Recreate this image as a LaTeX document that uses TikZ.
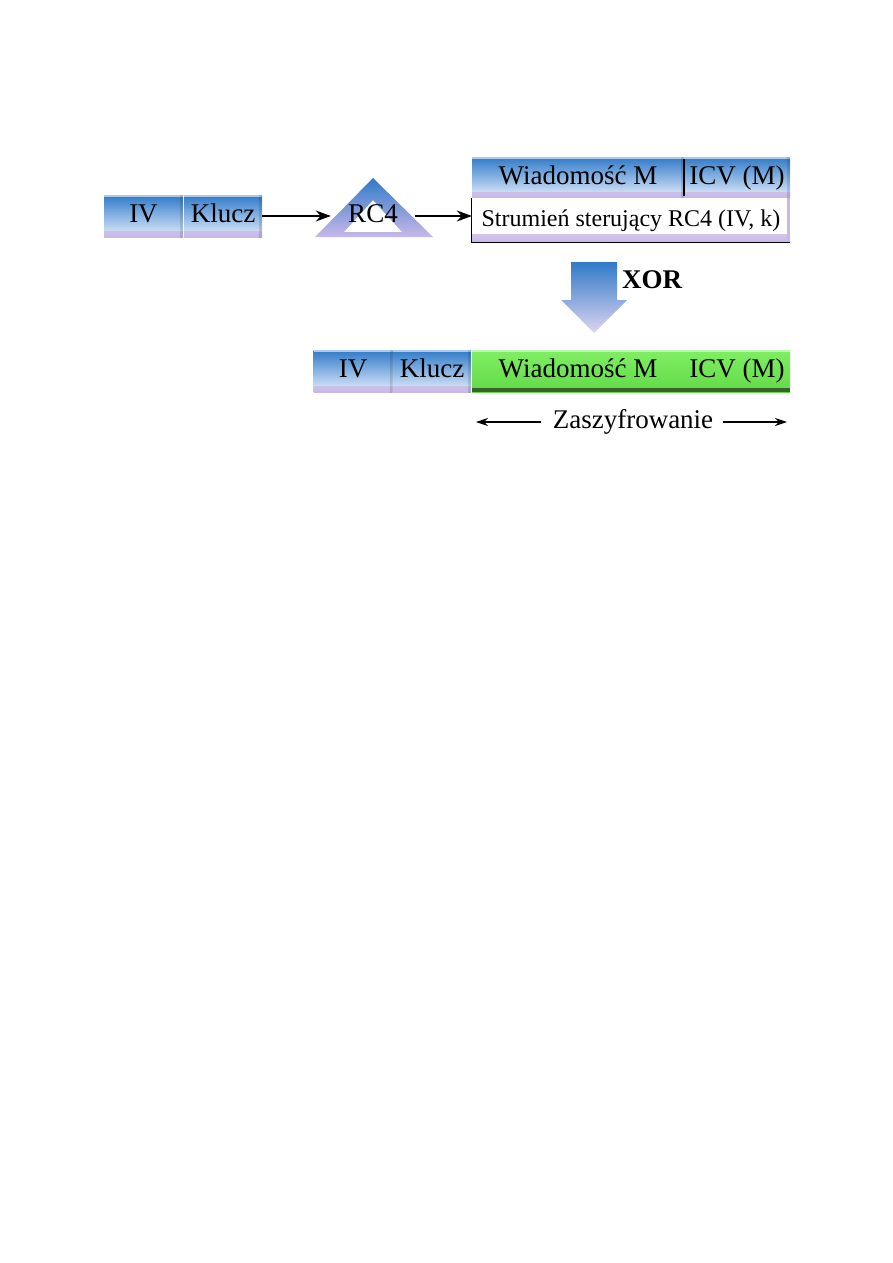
\documentclass[tikz,border=0pt]{standalone}
\usepackage{fontspec}
\setmainfont{Liberation Serif}
\usetikzlibrary{arrows.meta}
\definecolor{bluetop}{RGB}{48,122,200}
\definecolor{bluemid}{RGB}{110,168,228}
\definecolor{bluebot}{RGB}{228,238,252}
\definecolor{lav}{RGB}{200,184,232}
\definecolor{greentop}{RGB}{128,238,100}
\definecolor{greenbot}{RGB}{98,218,72}
\definecolor{greendark}{RGB}{56,100,44}
\tikzset{
  txt/.style={font=\fontsize{27}{30}\selectfont, text height=18pt, text depth=5pt, inner sep=0pt},
  bevel/.style={path picture={
     \shade[top color=bluebot, bottom color=lav] ([yshift=6pt]path picture bounding box.south west) rectangle (path picture bounding box.south east);
     \fill[white,opacity=.6] (path picture bounding box.north west) rectangle ([yshift=-2pt]path picture bounding box.north east);
     \fill[black,opacity=.12] (path picture bounding box.north east) rectangle ([xshift=-3pt,yshift=-2pt]path picture bounding box.south east);
  }},
  bluebox/.style={txt, rectangle, top color=bluetop, middle color=bluemid, bottom color=bluebot, bevel},
  greenbox/.style={txt, rectangle, top color=greentop, bottom color=greenbot, path picture={
     \fill[greendark] (path picture bounding box.south west) rectangle ([yshift=4pt]path picture bounding box.south east);
     \fill[white,opacity=.5] (path picture bounding box.north west) rectangle ([yshift=-2pt]path picture bounding box.north east);
  }},
  greenboxr/.style={greenbox, append after command={
     \pgfextra{\fill[greendark] (\tikzlastnode.north east) rectangle ([xshift=-3pt]\tikzlastnode.south east);}}},
  streambox/.style={txt, rectangle, fill=white, font=\fontsize{24}{28}\selectfont, path picture={
     \shade[top color=white, bottom color=lav] ([yshift=8pt]path picture bounding box.south west) rectangle (path picture bounding box.south east);
     \fill[lav] (path picture bounding box.north east) rectangle ([xshift=-3pt]path picture bounding box.south east);
  }},
  arr/.style={-{Stealth[length=15pt,width=11pt]}, line width=1.4pt},
  sarr/.style={-{Stealth[length=12pt,width=8pt]}, line width=1.2pt},
}
\begin{document}
\begin{tikzpicture}[x=1pt,y=-1pt]
\useasboundingbox (0,0) rectangle (893,1263);
% top row
\node[bluebox, minimum width=79, minimum height=42] (iv1) at (143.5,216) {IV};
\node[bluebox, minimum width=78, minimum height=42] (kl1) at (223,216) {Klucz};
% RC4 triangle
\shade[top color=bluetop, middle color=bluemid, bottom color=lav, even odd rule]
  (373,178) -- (433,237) -- (315,237) -- cycle
  (373,200) -- (402,232) -- (344,232) -- cycle;
\node[txt, minimum width=84] (rc4) at (373,216) {RC4};
% message / stream
\node[bluebox, minimum width=212, minimum height=41] (msg) at (578,177.5) {Wiadomość M};
\node[bluebox, minimum width=106, minimum height=41] (icv) at (737,177.5) {ICV (M)};
\draw[line width=1.5pt] ([yshift=-2pt]msg.north east) -- ([yshift=2pt]msg.south east);
\node[streambox, minimum width=318, minimum height=44] (stream) at (631,220) {Strumień sterujący RC4 (IV, k)};
\draw[line width=1.2pt] (stream.north west) -- (stream.south west) -- (stream.south east);
\draw[arr] (kl1.east) -- (rc4.west);
\draw[arr] (rc4.east) -- (rc4.east -| stream.west);
% XOR arrow
\shade[top color=bluetop, middle color=bluemid, bottom color=lav!60!white]
  (571,262) -- (617,262) -- (617,300) -- (627,300) -- (594,333) -- (561,300) -- (571,300) -- cycle;
\node[txt, font=\bfseries\fontsize{27}{30}\selectfont, anchor=west] (xor) at (622,282) {XOR};
% bottom row
\node[bluebox, minimum width=79, minimum height=42] (iv2) at (353,371) {IV};
\node[bluebox, minimum width=78, minimum height=42] (kl2) at (432,371) {Klucz};
\node[greenbox, minimum width=212, minimum height=42] (cmsg) at (578,371) {Wiadomość M};
\node[greenboxr, minimum width=106, minimum height=42] (cicv) at (737,371) {ICV (M)};
% Zaszyfrowanie
\node[txt] (zas) at (633,422) {Zaszyfrowanie};
\coordinate (zl) at (476,422);
\coordinate (zr) at (787,422);
\draw[sarr] ([xshift=-12pt]zas.west) -- (zl);
\draw[sarr] ([xshift=10pt]zas.east) -- (zr);
\end{tikzpicture}
\end{document}
